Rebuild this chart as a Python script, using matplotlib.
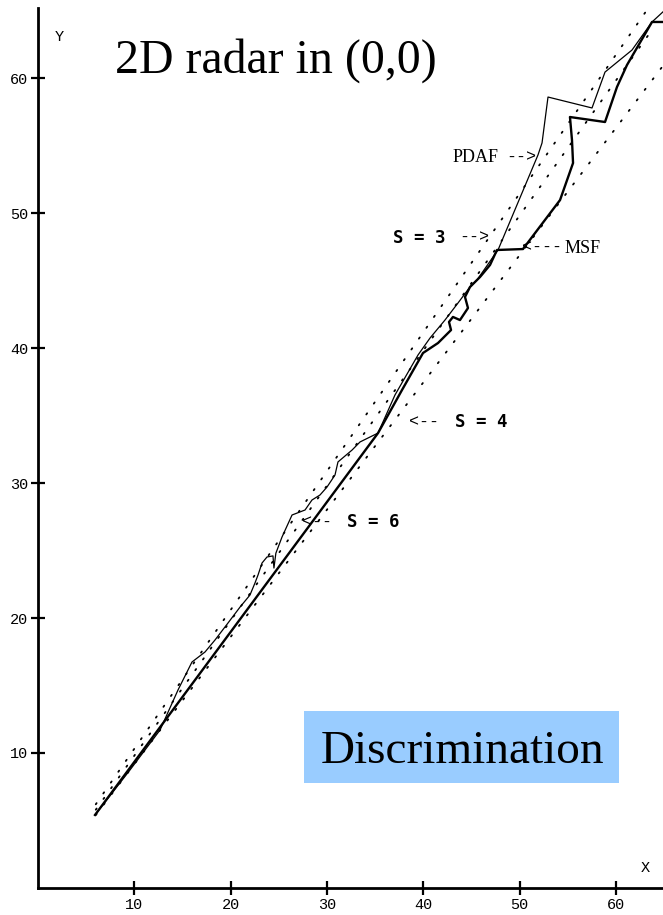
import matplotlib
matplotlib.use("Agg")
import matplotlib.pyplot as plt
from matplotlib.patches import Rectangle

W, H = 663, 915

# ---- data ----
msf_x = [5.92, 35.31, 37.80, 39.98, 41.54, 42.89, 42.68, 43.09, 43.82, 44.65, 44.34,
         44.86, 45.90, 46.94, 47.66, 50.36, 54.21, 55.56, 55.45, 55.24, 58.88, 60.12,
         61.16, 63.76, 64.90]
msf_y = [5.41, 33.70, 36.89, 39.63, 40.37, 41.33, 41.93, 42.30, 42.07, 42.96, 43.78,
         44.52, 45.26, 46.15, 47.26, 47.33, 50.96, 53.70, 55.41, 57.11, 56.74, 59.33,
         60.96, 64.15, 64.15]

pdaf_x = [5.92, 9.55, 12.67, 14.54, 15.99, 17.34, 18.38, 19.73, 20.98, 22.01, 22.53,
          22.85, 23.26, 23.78, 24.40, 24.50, 24.70, 25.34, 26.38, 27.73, 28.45, 29.28,
          30.01, 30.84, 31.15, 32.61, 33.44, 35.31, 37.07, 39.46, 40.71, 42.26, 43.61,
          44.86, 45.59, 47.25, 47.77, 51.92, 52.34, 52.96, 57.53, 58.88, 61.68, 63.76,
          64.90]
pdaf_y = [5.41, 8.74, 11.70, 14.67, 16.74, 17.48, 18.37, 19.63, 20.81, 21.70, 22.59,
          23.19, 24.07, 24.52, 24.60, 23.70, 24.80, 26.00, 27.63, 28.00, 28.74, 29.11,
          29.70, 30.59, 31.56, 32.44, 33.04, 33.70, 36.52, 39.48, 40.74, 42.07, 43.33,
          44.52, 45.04, 46.74, 47.26, 54.30, 55.19, 58.59, 57.78, 60.44, 62.07, 64.15,
          64.90]

bound_upper_x = [6.0, 63.2]
bound_upper_y = [6.2, 65.0]
bound_mid_x = [6.0, 64.0]
bound_mid_y = [5.8, 63.8]
bound_lower_x = [6.0, 65.0]
bound_lower_y = [5.4, 61.0]

xticks = [10, 20, 30, 40, 50, 60]
yticks = [10, 20, 30, 40, 50, 60]

fig = plt.figure(figsize=(W / 100, H / 100), dpi=100)
fig.patch.set_facecolor("white")

left, right, bottom, top = 38, 663, 888, 8
ax = fig.add_axes([left / W, (H - bottom) / H, (right - left) / W, (bottom - top) / H])
ax.set_xlim(0, (right - left) / 9.63)
ax.set_ylim(0, (bottom - top) / 13.5)

for s in ("top", "right"):
    ax.spines[s].set_visible(False)
for s in ("left", "bottom"):
    ax.spines[s].set_linewidth(2.0)
    ax.spines[s].set_color("black")

ax.set_xticks(xticks)
ax.set_yticks(yticks)
mono = "Liberation Mono"
ax.set_xticklabels([str(t) for t in xticks], family=mono, fontsize=11)
ax.set_yticklabels([str(t) for t in yticks], family=mono, fontsize=11)
ax.tick_params(direction="inout", length=10, width=1.6, pad=2)

dot = (0, (0.8, 6.5))
for bx, by in ((bound_upper_x, bound_upper_y), (bound_mid_x, bound_mid_y),
               (bound_lower_x, bound_lower_y)):
    ax.plot(bx, by, color="black", lw=1.3, linestyle=dot, dash_capstyle="round")

ax.plot(pdaf_x, pdaf_y, color="black", lw=0.9)
ax.plot(msf_x, msf_y, color="black", lw=1.7)


def fx(px):
    return px / W


def fy(py):
    return 1 - py / H


# axis letters
fig.text(fx(59), fy(37), "Y", family=mono, fontsize=11, ha="center", va="center")
fig.text(fx(645), fy(868), "X", family=mono, fontsize=11, ha="center", va="center")

serif = "Liberation Serif"
fig.text(fx(115), fy(73), "2D radar in (0,0)", family=serif, fontsize=34.5,
         ha="left", va="baseline")

# Discrimination box
fig.patches.append(Rectangle((fx(304), fy(783)), (619 - 304) / W, (783 - 711) / H,
                             transform=fig.transFigure, facecolor="#99CCFF",
                             edgecolor="none", zorder=0))
fig.text(fx(463), fy(763), "Discrimination", family=serif, fontsize=34,
         ha="center", va="baseline")

# annotations
smono = "DejaVu Sans Mono"
fig.text(fx(453), fy(162), "PDAF", family=serif, fontsize=13, ha="left", va="baseline")
fig.text(fx(506), fy(157), "-->", family=mono, fontsize=12, ha="left", va="center")

fig.text(fx(393), fy(238), "S = 3", family=smono, fontweight="bold",
         fontsize=12.5, ha="left", va="center")
fig.text(fx(459), fy(237), "-->", family=mono, fontsize=12, ha="left", va="center")

fig.text(fx(522), fy(247), "<---", family=mono, fontsize=12, ha="left", va="center")
fig.text(fx(565), fy(253), "MSF", family=serif, fontsize=13, ha="left", va="baseline")

fig.text(fx(409), fy(422), "<--", family=mono, fontsize=12, ha="left", va="center")
fig.text(fx(455), fy(422), "S = 4", family=smono, fontweight="bold",
         fontsize=12.5, ha="left", va="center")

fig.text(fx(302), fy(522), "<--", family=mono, fontsize=12, ha="left", va="center")
fig.text(fx(347), fy(522), "S = 6", family=smono, fontweight="bold",
         fontsize=12.5, ha="left", va="center")

fig.savefig("out.png", dpi=100)
